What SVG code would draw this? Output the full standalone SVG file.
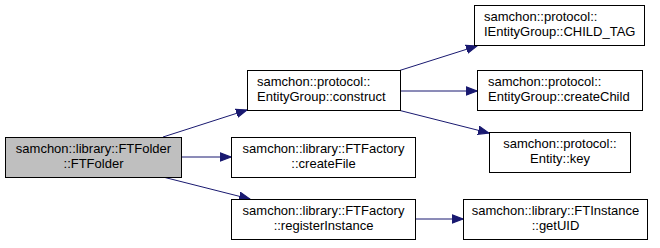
<svg xmlns="http://www.w3.org/2000/svg" width="660" height="248" viewBox="0 0 660 248">
  <style>
    .node rect { fill: #ffffff; stroke: #000000; stroke-width: 1; }
    .node.root rect { fill: #bfbfbf; }
    .node text { font-family: "Liberation Sans", Arial, sans-serif; font-size: 13px; fill: #000000; }
    .c { text-anchor: middle; }
    .edges path { fill: none; stroke: #191970; stroke-width: 1; marker-end: url(#arrow); }
  </style>
  <defs>
    <marker id="arrow" markerUnits="userSpaceOnUse" markerWidth="12" markerHeight="10" viewBox="0 -4 11 8" refX="10" refY="0" orient="auto">
      <path d="M0,-3.8 L10,0 L0,3.8 z" fill="#191970" stroke="#191970" stroke-width="1"/>
    </marker>
  </defs>

  <g class="edges" id="edges">
    <path d="M163,137 L247,110"/>
    <path d="M181,157 L231,157"/>
    <path d="M163,177 L250,199"/>
    <path d="M398,71 L477,46"/>
    <path d="M400,91 L477,91"/>
    <path d="M398,110 L489,133"/>
    <path d="M415,219 L463,219"/>
  </g>

  <g class="node root" id="node-ftfolder">
    <rect x="5.5" y="137.5" width="176" height="40"/>
    <text class="c" x="93.5" y="153">samchon::library::FTFolder</text>
    <text class="c" x="93.5" y="168">::FTFolder</text>
  </g>

  <g class="node" id="node-construct">
    <rect x="247.5" y="70.5" width="153" height="40"/>
    <text x="257" y="86">samchon::protocol::</text>
    <text x="257" y="101">EntityGroup::construct</text>
  </g>

  <g class="node" id="node-createfile">
    <rect x="231.5" y="137.5" width="184" height="40"/>
    <text class="c" x="323.5" y="153">samchon::library::FTFactory</text>
    <text class="c" x="323.5" y="168">::createFile</text>
  </g>

  <g class="node" id="node-registerinstance">
    <rect x="231.5" y="199.5" width="184" height="40"/>
    <text class="c" x="323.5" y="215">samchon::library::FTFactory</text>
    <text class="c" x="323.5" y="230">::registerInstance</text>
  </g>

  <g class="node" id="node-child-tag">
    <rect x="474.5" y="5.5" width="170" height="40"/>
    <text x="484" y="21">samchon::protocol::</text>
    <text x="484" y="36">IEntityGroup::CHILD_TAG</text>
  </g>

  <g class="node" id="node-createchild">
    <rect x="477.5" y="70.5" width="165" height="40"/>
    <text x="488" y="86">samchon::protocol::</text>
    <text x="488" y="101">EntityGroup::createChild</text>
  </g>

  <g class="node" id="node-key">
    <rect x="489.5" y="132.5" width="141" height="40"/>
    <text class="c" x="560" y="148">samchon::protocol::</text>
    <text class="c" x="560" y="163">Entity::key</text>
  </g>

  <g class="node" id="node-getuid">
    <rect x="463.5" y="199.5" width="184" height="40"/>
    <text class="c" x="555.5" y="215">samchon::library::FTInstance</text>
    <text class="c" x="555.5" y="230">::getUID</text>
  </g>
</svg>
